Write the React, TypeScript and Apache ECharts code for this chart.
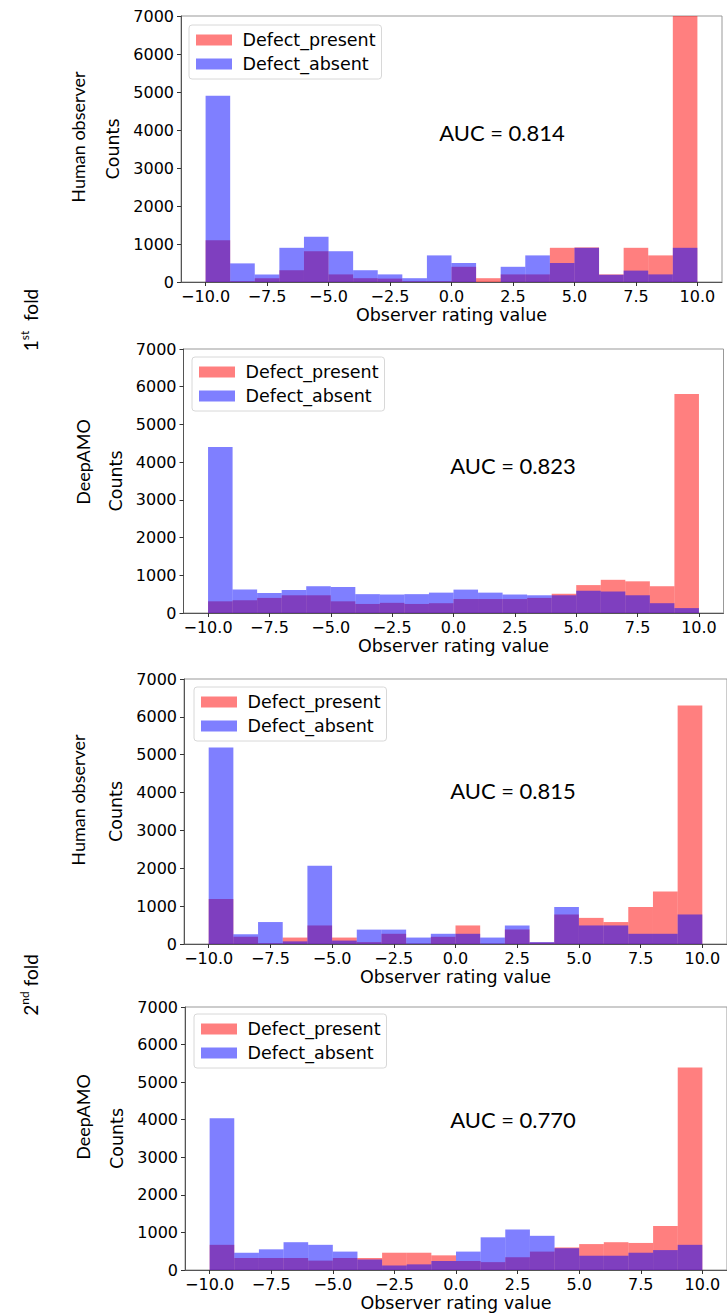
import React, { useEffect, useRef } from "react";
import * as echarts from "echarts";

// ---- Data ----
const BIN_STARTS = [-10, -9, -8, -7, -6, -5, -4, -3, -2, -1, 0, 1, 2, 3, 4, 5, 6, 7, 8, 9];
const BIN_ENDS = [-9, -8, -7, -6, -5, -4, -3, -2, -1, 0, 1, 2, 3, 4, 5, 6, 7, 8, 9, 10];

const X_TICKS = [-10, -7.5, -5, -2.5, 0, 2.5, 5, 7.5, 10];

const FOLD1_HUMAN_PRESENT = [1100, 20, 100, 310, 810, 200, 100, 90, 20, 20, 400, 100, 200, 200, 900, 910, 200, 900, 700, 7000];
const FOLD1_HUMAN_ABSENT = [4900, 490, 200, 900, 1190, 810, 310, 200, 100, 700, 500, 0, 400, 700, 500, 900, 190, 300, 200, 900];

const FOLD1_DEEP_PRESENT = [310, 340, 400, 470, 470, 310, 240, 270, 240, 260, 370, 370, 370, 400, 510, 740, 880, 840, 710, 5810];
const FOLD1_DEEP_ABSENT = [4400, 620, 530, 610, 710, 690, 500, 490, 500, 540, 620, 540, 490, 470, 470, 590, 570, 470, 260, 130];

const FOLD2_HUMAN_PRESENT = [1190, 190, 20, 170, 490, 170, 50, 270, 10, 190, 490, 10, 380, 40, 780, 690, 580, 980, 1390, 6300];
const FOLD2_HUMAN_ABSENT = [5190, 260, 580, 70, 2070, 90, 380, 380, 170, 270, 270, 170, 490, 50, 980, 490, 490, 270, 270, 780];

const FOLD2_DEEP_PRESENT = [670, 320, 320, 320, 250, 320, 320, 460, 460, 390, 240, 210, 340, 490, 600, 690, 740, 720, 1170, 5390];
const FOLD2_DEEP_ABSENT = [4040, 460, 550, 740, 670, 490, 280, 120, 150, 240, 490, 870, 1080, 910, 580, 380, 380, 460, 530, 670];

const AUC_LABELS = ["AUC = 0.814", "AUC = 0.823", "AUC = 0.815", "AUC = 0.770"];
const OBSERVERS = ["Human observer", "DeepAMO", "Human observer", "DeepAMO"];
const SERIES_NAMES = ["Defect_present", "Defect_absent"];

const PANEL_VALUES = [
  [FOLD1_HUMAN_PRESENT, FOLD1_HUMAN_ABSENT],
  [FOLD1_DEEP_PRESENT, FOLD1_DEEP_ABSENT],
  [FOLD2_HUMAN_PRESENT, FOLD2_HUMAN_ABSENT],
  [FOLD2_DEEP_PRESENT, FOLD2_DEEP_ABSENT],
];

// ---- Layout / style ----
const LAYOUT = [
  { left: 181, top: 16, width: 541, height: 266, lgLeft: 189, lgTop: 25, aucX: 502, aucY: 132, nameX: 78, nameY: 137 },
  { left: 183.5, top: 349, width: 540, height: 264, lgLeft: 192, lgTop: 357, aucX: 513, aucY: 465, nameX: 83, nameY: 462 },
  { left: 184, top: 679, width: 545, height: 265, lgLeft: 194, lgTop: 687, aucX: 513, aucY: 790, nameX: 78, nameY: 800 },
  { left: 185, top: 1007, width: 546, height: 266, lgLeft: 194, lgTop: 1014, aucX: 513, aucY: 1119, nameX: 83, nameY: 1117 },
];

const COLORS = ["rgba(255,0,0,0.5)", "rgba(0,0,255,0.5)"];
const FONT = "'DejaVu Sans', sans-serif";
const LABEL_FONT = "Lato, 'Open Sans', sans-serif";
const AXIS_COLOR = "#555";

function fmtTick(v: number) {
  return (v < 0 ? "\u2212" : "") + Math.abs(v).toFixed(1);
}

export default function App() {
  const ref = useRef<HTMLDivElement>(null);

  useEffect(() => {
    if (!ref.current) return;
    const chart = echarts.init(ref.current, null, { renderer: "svg" });

    const grid = LAYOUT.map((l) => ({
      left: l.left,
      top: l.top,
      width: l.width,
      height: l.height,
      show: true,
      borderColor: "#999",
      borderWidth: 1,
      backgroundColor: "transparent",
    }));

    const xAxis = LAYOUT.map((_, i) => ({
      type: "value",
      gridIndex: i,
      min: -11,
      max: 11,
      splitLine: { show: false },
      axisLine: { show: true, onZero: false, lineStyle: { color: AXIS_COLOR, width: 1 } },
      axisTick: { show: true, customValues: X_TICKS, length: 4, lineStyle: { color: "#333" } },
      axisLabel: {
        customValues: X_TICKS,
        formatter: (v: number) => fmtTick(v),
        fontFamily: FONT,
        fontSize: 16,
        color: "#000",
        margin: 6,
      },
      name: "Observer rating value",
      nameLocation: "middle",
      nameGap: 24,
      nameTextStyle: { fontFamily: FONT, fontSize: 17.5, color: "#000" },
    }));

    const yAxis = LAYOUT.map((_, i) => ({
      type: "value",
      gridIndex: i,
      min: 0,
      max: 7000,
      interval: 1000,
      splitLine: { show: false },
      axisLine: { show: true, onZero: false, lineStyle: { color: AXIS_COLOR, width: 1 } },
      axisTick: { show: true, length: 4, lineStyle: { color: "#333" } },
      axisLabel: { fontFamily: FONT, fontSize: 16, color: "#000", margin: 7, formatter: (v: number) => String(v) },
      name: "Counts",
      nameLocation: "middle",
      nameRotate: 90,
      nameGap: 59,
      nameTextStyle: { fontFamily: FONT, fontSize: 17.5, color: "#000" },
    }));

    const series: any[] = [];
    PANEL_VALUES.forEach((pair, i) => {
      pair.forEach((vals, j) => {
        const color = COLORS[j];
        series.push({
          type: "custom",
          name: SERIES_NAMES[j],
          xAxisIndex: i,
          yAxisIndex: i,
          itemStyle: { color },
          encode: { x: [0, 1], y: 2 },
          data: BIN_STARTS.map((s, k) => [s, BIN_ENDS[k], vals[k]]),
          renderItem: (params: any, api: any) => {
            const x0 = api.value(0);
            const x1 = api.value(1);
            const v = api.value(2);
            const a = api.coord([x0, v]);
            const b = api.coord([x1, 0]);
            return {
              type: "rect",
              shape: { x: a[0], y: a[1], width: b[0] - a[0], height: b[1] - a[1] },
              style: { fill: color },
            };
          },
        });
      });
    });

    const legend = LAYOUT.map((l) => ({
      left: l.lgLeft,
      top: l.lgTop,
      orient: "vertical",
      itemWidth: 36,
      itemHeight: 11,
      itemGap: 6,
      padding: [6, 6, 6, 7],
      backgroundColor: "#fff",
      borderColor: "#d8d8d8",
      borderWidth: 1,
      borderRadius: 3,
      selectedMode: false,
      formatter: (name: string) => " " + name,
      textStyle: { fontFamily: FONT, fontSize: 17.5, color: "#000", lineHeight: 18 },
      data: SERIES_NAMES.map((n) => ({ name: n, icon: "rect" })),
    }));

    const graphic: any[] = [];
    LAYOUT.forEach((l, i) => {
      graphic.push({
        type: "text",
        x: l.aucX,
        y: l.aucY,
        style: {
          text: AUC_LABELS[i],
          fontFamily: LABEL_FONT,
          fontSize: 22,
          fill: "#000",
          align: "center",
          verticalAlign: "middle",
        },
      });
      graphic.push({
        type: "text",
        x: l.nameX,
        y: l.nameY,
        rotation: Math.PI / 2,
        style: {
          text: OBSERVERS[i],
          fontFamily: LABEL_FONT,
          fontSize: 18,
          fill: "#000",
          align: "center",
          verticalAlign: "middle",
        },
      });
    });
    const foldRich = {
      a: { fontFamily: LABEL_FONT, fontSize: 19, fill: "#000", lineHeight: 24 },
      s: { fontFamily: LABEL_FONT, fontSize: 12, fill: "#000", verticalAlign: "top", lineHeight: 24 },
    };
    graphic.push({
      type: "text",
      x: 30,
      y: 320,
      rotation: Math.PI / 2,
      style: { text: "{a|1}{s|st}{a|  fold}", rich: foldRich, align: "center", verticalAlign: "middle" },
    });
    graphic.push({
      type: "text",
      x: 30,
      y: 985,
      rotation: Math.PI / 2,
      style: { text: "{a|2}{s|nd}{a| fold}", rich: foldRich, align: "center", verticalAlign: "middle" },
    });

    chart.setOption({
      animation: false,
      backgroundColor: "#fff",
      grid,
      xAxis,
      yAxis,
      legend,
      series,
      graphic,
    });

    return () => chart.dispose();
  }, []);

  return <div ref={ref} style={{ position: "absolute", left: 0, top: 0, width: 727, height: 1313 }} />;
}
